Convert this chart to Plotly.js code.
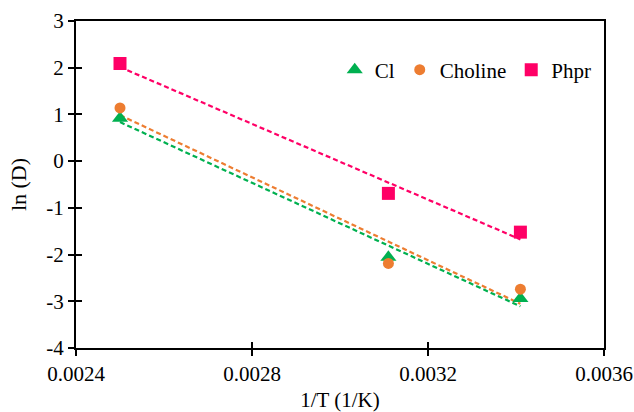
<!DOCTYPE html>
<html><head><meta charset="utf-8">
<script src="https://cdn.plot.ly/plotly-3.0.1.min.js"></script>
<style>body{margin:0;background:#fff}#c{width:634px;height:412px}</style>
</head><body><div id="c"></div>
<script>
const invT = [0.0025, 0.00311, 0.00341];
const seriesNames = ['Cl', 'Choline', 'Phpr'];
const clVals = [0.92, -2.06, -2.94];
const cholineVals = [1.14, -2.19, -2.74];
const phprVals = [2.09, -0.69, -1.52];
const yTickVals = [-4, -3, -2, -1, 0, 1, 2, 3];
const yTickText = ['-4', '-3', '-2', '-1', '0', '1', '2', '3'];
const xTickVals = [0.0024, 0.0028, 0.0032, 0.0036];
const xTickText = ['0.0024', '0.0028', '0.0032', '0.0036'];

const styles = [
  {color: '#00B050', symbol: 'triangle-up', size: 14},
  {color: '#ED7D31', symbol: 'circle', size: 11},
  {color: '#FF0066', symbol: 'square', size: 13}
];
const allVals = [clVals, cholineVals, phprVals];

function linfit(x, y) {
  const n = x.length;
  const mx = x.reduce((a,b)=>a+b,0)/n, my = y.reduce((a,b)=>a+b,0)/n;
  let sxy = 0, sxx = 0;
  for (let i=0;i<n;i++){ sxy += (x[i]-mx)*(y[i]-my); sxx += (x[i]-mx)**2; }
  const m = sxy/sxx; return {m, b: my - m*mx};
}
function F(s) { return {family: 'Liberation Serif', size: s, color: '#000'}; }

const traces = [];
allVals.forEach((vals, i) => {
  const f = linfit(invT, vals);
  const xs = [Math.min(...invT), Math.max(...invT)];
  traces.push({x: xs, y: xs.map(v => f.m*v + f.b), mode: 'lines', showlegend: false,
    line: {color: styles[i].color, width: 2.2, dash: '5px,3px'}, hoverinfo: 'skip'});
});
allVals.forEach((vals, i) => {
  traces.push({x: invT, y: vals, mode: 'markers', name: seriesNames[i],
    marker: {color: styles[i].color, symbol: styles[i].symbol, size: styles[i].size, line: {width: 0}}});
});

const layout = {
  width: 634, height: 412,
  margin: {l: 76, r: 30, t: 21, b: 64},
  paper_bgcolor: '#fff', plot_bgcolor: '#fff',
  font: F(21),
  showlegend: true,
  legend: {orientation: 'h', x: 0.49, y: 0.85, xanchor: 'left', yanchor: 'middle', font: F(21),
    bgcolor: 'rgba(0,0,0,0)', itemwidth: 30, tracegroupgap: 0},
  xaxis: {range: [0.0024, 0.0036], tickvals: xTickVals, ticktext: xTickText, tickfont: F(21),
    showgrid: false, zeroline: false, showline: true, linecolor: '#000', linewidth: 2, mirror: true,
    ticks: 'outside', ticklen: 6, tickwidth: 2, tickcolor: '#000',
    title: {text: '1/T (1/K)', font: F(21), standoff: 8}},
  yaxis: {range: [-4, 3], tickvals: yTickVals, ticktext: yTickText, tickfont: F(21),
    showgrid: false, zeroline: false, showline: true, linecolor: '#000', linewidth: 2, mirror: true,
    ticks: 'outside', ticklen: 6, tickwidth: 2, tickcolor: '#000',
    title: {text: 'ln (D)', font: F(22), standoff: 14}},
  xaxis2: {overlaying: 'x', range: [0.0024, 0.0036], tickvals: xTickVals, showticklabels: false,
    showgrid: false, zeroline: false, showline: false, ticks: 'inside', ticklen: 6, tickwidth: 2, tickcolor: '#000', anchor: 'y'},
  yaxis2: {overlaying: 'y', range: [-4, 3], tickvals: yTickVals, showticklabels: false,
    showgrid: false, zeroline: false, showline: false, ticks: 'inside', ticklen: 6, tickwidth: 2, tickcolor: '#000', anchor: 'x'}
};
traces.push({x: [0.0024], y: [-4], xaxis: 'x2', yaxis: 'y2', mode: 'markers', marker: {opacity: 0}, showlegend: false, hoverinfo: 'skip'});
Plotly.newPlot('c', traces, layout, {displayModeBar: false, staticPlot: true});
</script></body></html>
